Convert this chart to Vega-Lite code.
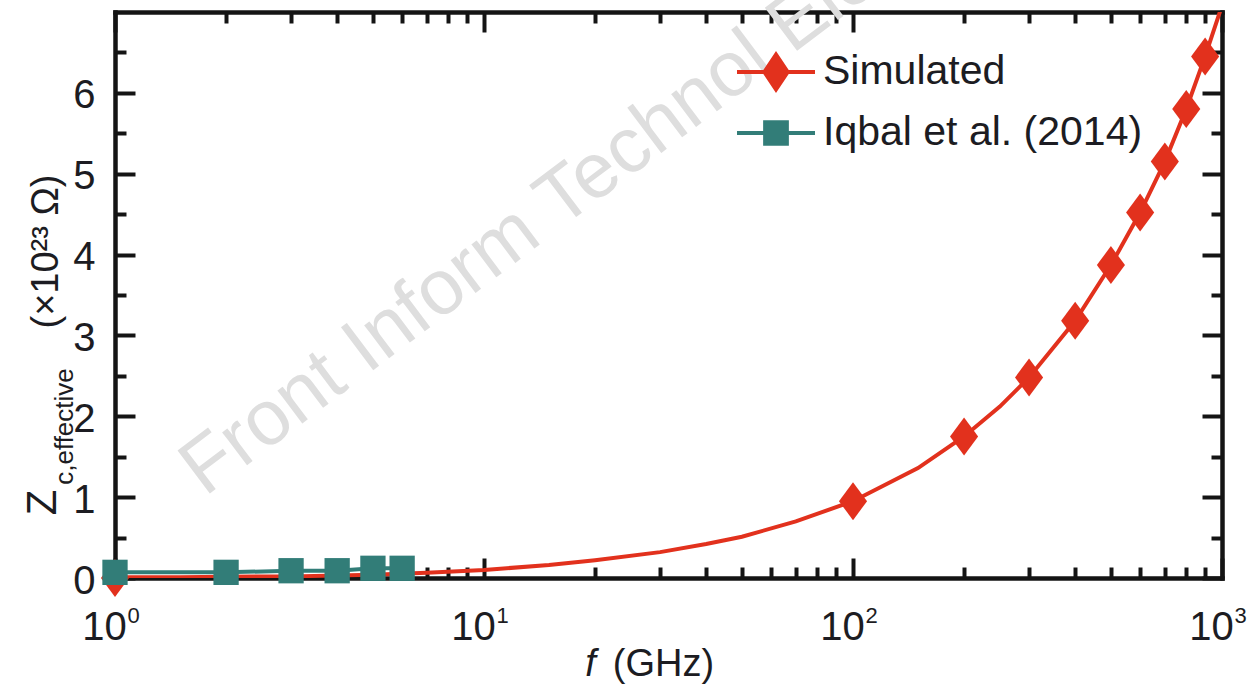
{
  "$schema": "https://vega.github.io/schema/vega-lite/v6.json",
  "width": 1107,
  "height": 566,
  "autosize": {"type": "none"},
  "padding": {"left": 115, "top": 12, "right": 25, "bottom": 107},
  "background": "white",
  "config": {
    "view": {"stroke": null},
    "font": "Liberation Sans",
    "axis": {
      "grid": false,
      "domainColor": "#141414",
      "domainWidth": 4.5,
      "domainCap": "square",
      "tickColor": "#141414",
      "tickWidth": 4,
      "labelFont": "Liberation Sans",
      "labelFontSize": 40,
      "labelColor": "#1c1c22",
      "titleFont": "Liberation Sans",
      "titleFontSize": 38,
      "titleFontWeight": "normal",
      "titleColor": "#1c1c22",
      "labelOverlap": false,
      "labelFlush": false
    }
  },
  "datasets": {
    "curve": [
      {"f": 1, "z": 0.01}, {"f": 1.5, "z": 0.01}, {"f": 2, "z": 0.015}, {"f": 3, "z": 0.02},
      {"f": 5, "z": 0.04}, {"f": 7, "z": 0.065}, {"f": 10, "z": 0.1}, {"f": 15, "z": 0.16},
      {"f": 20, "z": 0.22}, {"f": 30, "z": 0.32}, {"f": 40, "z": 0.42}, {"f": 50, "z": 0.51},
      {"f": 70, "z": 0.7}, {"f": 100, "z": 0.95}, {"f": 150, "z": 1.36}, {"f": 200, "z": 1.75},
      {"f": 250, "z": 2.12}, {"f": 300, "z": 2.48}, {"f": 400, "z": 3.18}, {"f": 500, "z": 3.87},
      {"f": 600, "z": 4.52}, {"f": 700, "z": 5.15}, {"f": 800, "z": 5.8}, {"f": 900, "z": 6.45},
      {"f": 1000, "z": 7.08}
    ],
    "simulated": [
      {"f": 1, "z": 0.0}, {"f": 100, "z": 0.95}, {"f": 200, "z": 1.75}, {"f": 300, "z": 2.48},
      {"f": 400, "z": 3.18}, {"f": 500, "z": 3.87}, {"f": 600, "z": 4.52}, {"f": 700, "z": 5.15},
      {"f": 800, "z": 5.8}, {"f": 900, "z": 6.45}
    ],
    "iqbal": [
      {"f": 1, "z": 0.07}, {"f": 2, "z": 0.07}, {"f": 3, "z": 0.09},
      {"f": 4, "z": 0.09}, {"f": 5, "z": 0.12}, {"f": 6, "z": 0.12}
    ],
    "series": [
      {"series": "Simulated", "f": 1, "z": 0}, {"series": "Iqbal et al. (2014)", "f": 1, "z": 0}
    ],
    "watermark": [
      {"label": "Front Inform Technol Electron Eng", "f": 1.75, "z": 1.0}
    ]
  },
  "layer": [
    {
      "data": {"name": "watermark"},
      "mark": {"type": "text", "font": "Liberation Sans", "fontSize": 78, "color": "#dedede", "angle": -37, "align": "left", "baseline": "alphabetic"},
      "encoding": {
        "text": {"field": "label"},
        "x": {"field": "f", "type": "quantitative", "scale": {"type": "log", "domain": [1, 1000], "nice": false},
          "axis": {"orient": "bottom", "values": [1, 10, 100, 1000], "ticks": false, "domain": false, "labelFontSize": 22, "labelPadding": 27, "labelOffset": 18,
            "labelExpr": "datum.value == 1 ? '0' : datum.value == 10 ? '1' : datum.value == 100 ? '2' : '3'", "title": null}},
        "y": {"field": "z", "type": "quantitative", "scale": {"domain": [0, 7], "nice": false, "zero": false},
          "axis": {"orient": "left", "values": [0], "ticks": false, "domain": false, "labels": false,
            "title": "c,effective", "titleFontSize": 26, "titleX": -43, "titleY": 414, "titleAlign": "center", "titleBaseline": "alphabetic", "titleAngle": 270}}
      }
    },
    {
      "data": {"name": "curve"},
      "mark": {"type": "line", "color": "#E2311D", "strokeWidth": 4, "clip": true},
      "encoding": {
        "x": {"field": "f", "type": "quantitative", "scale": {"type": "log", "domain": [1, 1000], "nice": false},
          "axis": {"orient": "bottom", "values": [1, 10, 100, 1000], "tickSize": -20, "labelPadding": 49, "labelOffset": -11,
            "labelExpr": "'10'",
            "title": "(GHz)", "titleX": 548, "titleY": 97, "titleAlign": "center", "titleBaseline": "alphabetic"}},
        "y": {"field": "z", "type": "quantitative", "scale": {"domain": [0, 7], "nice": false, "zero": false},
          "axis": {"orient": "left", "values": [0, 1, 2, 3, 4, 5, 6], "tickSize": -20, "labelPadding": 40, "labelOffset": 3,
            "title": "(×10²³ Ω)", "titleX": -58, "titleY": 239, "titleAlign": "center", "titleBaseline": "alphabetic", "titleAngle": 270}}
      }
    },
    {
      "data": {"name": "simulated"},
      "mark": {"type": "point", "filled": true, "opacity": 1, "color": "#E2311D", "shape": "M0,-1L0.74,0L0,1L-0.74,0Z", "size": 1444},
      "encoding": {
        "x": {"field": "f", "type": "quantitative", "scale": {"type": "log", "domain": [1, 1000], "nice": false},
          "axis": {"orient": "bottom", "values": [2, 3, 4, 5, 6, 7, 8, 9, 20, 30, 40, 50, 60, 70, 80, 90, 200, 300, 400, 500, 600, 700, 800, 900], "tickSize": -11, "labels": false, "domain": false,
            "title": "f", "titleFontStyle": "italic", "titleX": 475, "titleY": 97, "titleAlign": "center", "titleBaseline": "alphabetic"}},
        "y": {"field": "z", "type": "quantitative", "scale": {"domain": [0, 7], "nice": false, "zero": false},
          "axis": {"orient": "left", "values": [0.5, 1.5, 2.5, 3.5, 4.5, 5.5, 6.5], "tickSize": -11, "labels": false, "domain": false,
            "title": "Z", "titleFontSize": 42, "titleX": -60, "titleY": 490, "titleAlign": "center", "titleBaseline": "alphabetic", "titleAngle": 270}}
      }
    },
    {
      "data": {"name": "iqbal"},
      "mark": {"type": "line", "color": "#327D78", "strokeWidth": 4},
      "encoding": {
        "x": {"field": "f", "type": "quantitative", "scale": {"type": "log", "domain": [1, 1000], "nice": false},
          "axis": {"orient": "top", "values": [1, 10, 100, 1000], "tickSize": -20, "labels": false, "title": null}},
        "y": {"field": "z", "type": "quantitative", "scale": {"domain": [0, 7], "nice": false, "zero": false},
          "axis": {"orient": "right", "values": [0, 1, 2, 3, 4, 5, 6], "tickSize": -20, "labels": false, "title": null}}
      }
    },
    {
      "data": {"name": "iqbal"},
      "mark": {"type": "point", "filled": true, "opacity": 1, "color": "#327D78", "shape": "square", "size": 640},
      "encoding": {
        "x": {"field": "f", "type": "quantitative", "scale": {"type": "log", "domain": [1, 1000], "nice": false},
          "axis": {"orient": "top", "values": [2, 3, 4, 5, 6, 7, 8, 9, 20, 30, 40, 50, 60, 70, 80, 90, 200, 300, 400, 500, 600, 700, 800, 900], "tickSize": -11, "labels": false, "domain": false, "title": null}},
        "y": {"field": "z", "type": "quantitative", "scale": {"domain": [0, 7], "nice": false, "zero": false},
          "axis": {"orient": "right", "values": [0.5, 1.5, 2.5, 3.5, 4.5, 5.5, 6.5], "tickSize": -11, "labels": false, "domain": false, "title": null}}
      }
    },
    {
      "data": {"name": "series"},
      "transform": [{"filter": "false"}],
      "mark": {"type": "point", "filled": true, "opacity": 1},
      "encoding": {
        "x": {"field": "f", "type": "quantitative", "scale": {"type": "log", "domain": [1, 1000], "nice": false}, "axis": null},
        "y": {"field": "z", "type": "quantitative", "scale": {"domain": [0, 7], "nice": false, "zero": false}, "axis": null},
        "color": {"field": "series", "type": "nominal",
          "scale": {"domain": ["Simulated", "Iqbal et al. (2014)"], "range": ["#E2311D", "#327D78"]},
          "legend": {"orient": "none", "legendX": 622, "legendY": 21, "title": null, "padding": 0,
            "labelFont": "Liberation Sans", "labelFontSize": 41, "labelColor": "#1c1c22", "labelOffset": 8,
            "symbolSize": 6084, "symbolStrokeWidth": 0, "symbolOpacity": 1, "rowPadding": -17, "labelLimit": 600}},
        "shape": {"field": "series", "type": "nominal",
          "scale": {"domain": ["Simulated", "Iqbal et al. (2014)"],
            "range": ["M-1,-0.05H1V0.05H-1ZM0,-0.54L0.36,0L0,0.54L-0.36,0Z", "M-1,-0.05H1V0.05H-1ZM-0.33,-0.33H0.33V0.33H-0.33Z"]},
          "legend": {"orient": "none", "legendX": 622, "legendY": 21, "title": null, "padding": 0,
            "labelFont": "Liberation Sans", "labelFontSize": 41, "labelColor": "#1c1c22", "labelOffset": 8,
            "symbolSize": 6084, "symbolStrokeWidth": 0, "symbolOpacity": 1, "rowPadding": -17, "labelLimit": 600}}
      }
    }
  ],
  "resolve": {"axis": {"x": "independent", "y": "independent"}}
}
